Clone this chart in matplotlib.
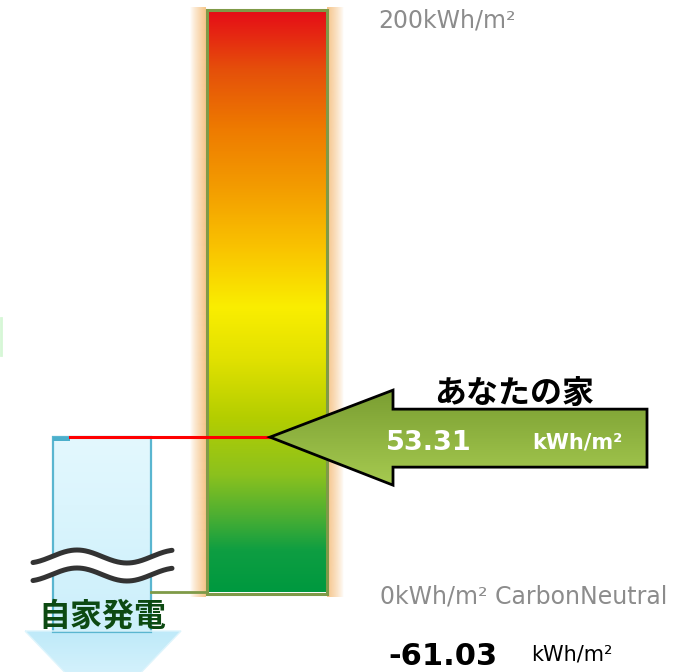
import numpy as np
import matplotlib.pyplot as plt
from matplotlib.colors import LinearSegmentedColormap, to_rgb
from matplotlib.patches import Polygon, Rectangle

# values
scale_max = 200
scale_min = 0
house_value = 53.31
self_gen = -61.03

top_label = '200kWh/m²'
zero_label = '0kWh/m² CarbonNeutral'
house_title = 'あなたの家'
gen_title = '自家発電'
unit = 'kWh/m²'

# gauge colours, top (0) to bottom (1)
bar_stops = [0, .1, .2, .3, .4, .51, .6, .7, .8, .87, .93, 1]
bar_colors = ['#E60D17', '#E5500A', '#EE7A00', '#F39B00', '#F9C000', '#FAEE00',
              '#E1E100', '#B4CE00', '#8BC11E', '#4CAF32', '#0E9E42', '#00993F']

JP = ['Noto Sans CJK JP', 'DejaVu Sans']

# pixel layout: 0 kWh at y=592 px, 200 kWh at y=11 px
PXU = (592 - 11) / (scale_max - scale_min)   # px per kWh
PX = 1 / PXU


def pix(p):
    return (592 - p) / PXU


fig = plt.figure(figsize=(6.93, 6.72), dpi=100)
ax = fig.add_axes([0, 0, 1, 1])
ax.axis('off')


def grad_fill(patch, top_col, bot_col, x0, x1, y0, y1, z):
    cm = LinearSegmentedColormap.from_list('g', [bot_col, top_col])
    im = ax.imshow(np.linspace(0, 1, 128).reshape(-1, 1), extent=[x0, x1, y0, y1],
                   origin='lower', aspect='auto', cmap=cm, zorder=z)
    im.set_clip_path(patch)


# glow around the gauge
glow = np.array(to_rgb('#F6C58A'))
n = 32
left = np.zeros((1, n, 4))
left[..., :3] = glow
left[0, :, 3] = np.linspace(0, 1, n) ** 0.8
right = left[:, ::-1, :].copy()
ax.imshow(left, extent=[190, 206, pix(597), pix(8)], aspect='auto', zorder=1)
ax.imshow(right, extent=[327, 344, pix(597), pix(8)], aspect='auto', zorder=1)

# gauge bar
cmap = LinearSegmentedColormap.from_list(
    'gauge', [(1 - s, c) for s, c in zip(bar_stops[::-1], bar_colors[::-1])])
ax.imshow(np.linspace(0, 1, 256).reshape(-1, 1), extent=[207, 326, scale_min, scale_max],
          origin='lower', aspect='auto', cmap=cmap, zorder=2)
ax.add_patch(Rectangle((206.5, scale_min - 1.5 * PX), 120.5, scale_max - scale_min + 3 * PX,
                       fill=False, edgecolor='#7F9A48', lw=2.2, zorder=3))

# self generation arrow (broken)
shaft = Rectangle((53, pix(632)), 98, house_value - pix(632), facecolor='none',
                  edgecolor='#5AB6D0', lw=1.6, zorder=3)
ax.add_patch(shaft)
grad_fill(shaft, '#E3F8FE', '#CBEFFB', 53, 151, pix(640), house_value, 2)
ax.add_patch(Rectangle((53, house_value - 4 * PX), 17, 4 * PX, facecolor='#4BAFCB',
                       edgecolor='none', zorder=4))
head = Polygon([(25, pix(631)), (181, pix(631)), (103, pix(712))], closed=True,
               facecolor='none', edgecolor='#DDF4FC', lw=1, zorder=3)
ax.add_patch(head)
grad_fill(head, '#BFEAF9', '#E6F8FE', 25, 181, pix(712), pix(631), 2)

# break mark
wx = np.linspace(33, 172, 200)
wy = 556.5 - 6.5 * np.cos(2 * np.pi * (wx - 77) / 100)
ax.fill_between(wx, pix(wy), pix(wy + 18), color='white', zorder=4)
ax.plot(wx, pix(wy), color='#333333', lw=3.6, solid_capstyle='round', zorder=5)
ax.plot(wx, pix(wy + 18), color='#333333', lw=3.6, solid_capstyle='round', zorder=5)

# zero baseline next to the gauge
ax.plot([151, 206], [scale_min, scale_min], color='#7F9A48', lw=2, zorder=3)

# house level line
ax.plot([70, 270], [house_value, house_value], color='#FF0000', lw=2.2, zorder=5)

# house arrow
h = house_value
arrow = Polygon([(270, h), (393, h + 47 * PX), (393, h + 28 * PX), (647, h + 28 * PX),
                 (647, h - 30 * PX), (393, h - 30 * PX), (393, h - 48 * PX)], closed=True,
                facecolor='none', edgecolor='black', lw=2, joinstyle='miter', zorder=7)
ax.add_patch(arrow)
grad_fill(arrow, '#7A9E32', '#A6CA50', 270, 647, h - 48 * PX, h + 47 * PX, 6)

# texts
ax.text(514, pix(394), house_title, family=JP, fontweight='bold', fontsize=23,
        ha='center', va='center', color='black', zorder=8)
ax.text(386, pix(443), f'{house_value:.2f}', fontweight='bold', fontsize=19.5,
        ha='left', va='center', color='white', zorder=8)
ax.text(532, pix(443), unit, fontweight='bold', fontsize=15,
        ha='left', va='center', color='white', zorder=8)
ax.text(378, pix(20), top_label, fontsize=17, color='#8C8C8C', ha='left', va='center')
ax.text(380, pix(597), zero_label, fontsize=17, color='#8C8C8C', ha='left', va='center')
ax.text(388, pix(665), f'{self_gen:.2f}', fontweight='bold', fontsize=22,
        ha='left', va='baseline', color='black')
ax.text(531, pix(655), unit, fontsize=15, ha='left', va='center', color='black')
ax.text(102, pix(617), gen_title, family=JP, fontweight='bold', fontsize=23,
        ha='center', va='center', color='#0D4A12', zorder=8)

# faint mark at the left edge
ax.plot([1, 1], [pix(318), pix(355)], color='#D6F7D6', lw=2)

ax.set_xlim(0, 693)
ax.set_ylim(pix(672), pix(0))

plt.savefig('out.png', dpi=100)
